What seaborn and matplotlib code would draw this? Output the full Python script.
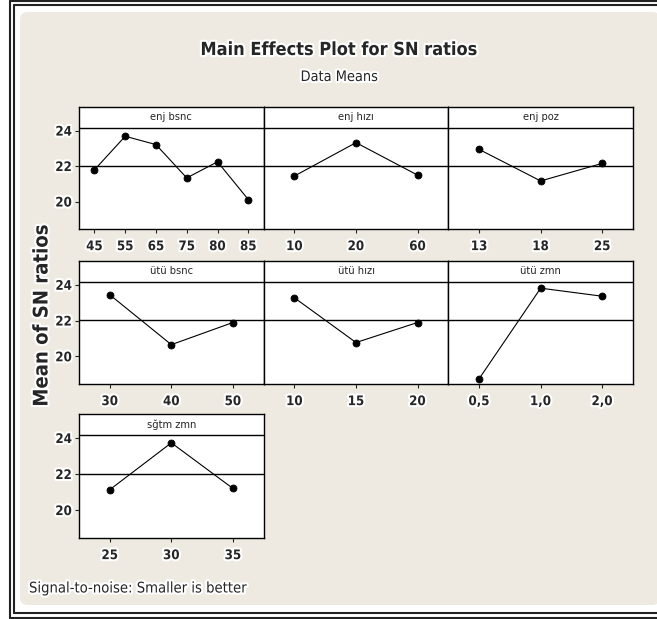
import numpy as np
import pandas as pd
import matplotlib
matplotlib.use("Agg")
import matplotlib.pyplot as plt
import matplotlib.patheffects as pe
from matplotlib import font_manager
from matplotlib.patches import FancyBboxPatch
from matplotlib.lines import Line2D
from matplotlib.transforms import blended_transform_factory
import seaborn as sns

# ---- factor levels and mean SN ratios -------------------------------------
enj_bsnc_levels = ["45", "55", "65", "75", "80", "85"]
enj_bsnc_sn = [21.78, 23.68, 23.21, 21.33, 22.24, 20.11]

enj_hizi_levels = ["10", "20", "60"]
enj_hizi_sn = [21.44, 23.32, 21.49]

enj_poz_levels = ["13", "18", "25"]
enj_poz_sn = [22.94, 21.16, 22.15]

utu_bsnc_levels = ["30", "40", "50"]
utu_bsnc_sn = [23.44, 20.65, 21.89]

utu_hizi_levels = ["10", "15", "20"]
utu_hizi_sn = [23.27, 20.77, 21.89]

utu_zmn_levels = ["0,5", "1,0", "2,0"]
utu_zmn_sn = [18.74, 23.81, 23.36]

sgtm_zmn_levels = ["25", "30", "35"]
sgtm_zmn_sn = [21.13, 23.73, 21.20]

factors = [
    ("enj bsnc", enj_bsnc_levels, enj_bsnc_sn),
    ("enj hızı", enj_hizi_levels, enj_hizi_sn),
    ("enj poz", enj_poz_levels, enj_poz_sn),
    ("ütü bsnc", utu_bsnc_levels, utu_bsnc_sn),
    ("ütü hızı", utu_hizi_levels, utu_hizi_sn),
    ("ütü zmn", utu_zmn_levels, utu_zmn_sn),
    ("sğtm zmn", sgtm_zmn_levels, sgtm_zmn_sn),
]

y_ticks = [20, 22, 24]

# long-format table for seaborn
df = pd.concat(
    [pd.DataFrame({"factor": name, "level": lv, "sn": sn}) for name, lv, sn in factors],
    ignore_index=True,
)
grand_mean = float(np.mean([np.mean(sn) for _, _, sn in factors]))

# ---- fonts: prefer a narrow sans face --------------------------------------
sns.set_style("white")
entries = font_manager.fontManager.ttflist
names = {f.name for f in entries}
narrow_family, narrow_stretch, scale = "Liberation Sans", "normal", 0.92
if "Liberation Sans Narrow" in names:
    narrow_family, scale = "Liberation Sans Narrow", 1.05
elif any(f.name == "DejaVu Sans" and str(f.stretch) not in ("normal", "400", "500")
         for f in entries):
    narrow_family, narrow_stretch, scale = "DejaVu Sans", "condensed", 1.0
elif "Roboto Condensed" in names:
    narrow_family, scale = "Roboto Condensed", 1.05
NARROW = [narrow_family, "DejaVu Sans"]
plt.rcParams["font.family"] = NARROW
plt.rcParams["font.stretch"] = narrow_stretch

W, H = 657, 619
fig = plt.figure(figsize=(W / 100, H / 100), dpi=100, facecolor="white")

def fx(px):
    return px / W

def fy(py):
    return 1 - py / H

glow = [pe.withStroke(linewidth=3, foreground="white")]

# beige panel background
bg = FancyBboxPatch((fx(20), fy(605)), fx(660) - fx(20), fy(12) - fy(605),
                    boxstyle="round,pad=0,rounding_size=0.012",
                    transform=fig.transFigure, facecolor="#EEEAE1",
                    edgecolor="none", zorder=0)
fig.add_artist(bg)

# double frame lines
frame_kw = dict(transform=fig.transFigure, color="#222222", linewidth=1.5, zorder=1)
for x, ytop, ybot in [(10, 1.2, 617.5), (14, 4.5, 612.5)]:
    fig.add_artist(Line2D([fx(x), fx(x)], [fy(ytop), fy(ybot)], **frame_kw))
    fig.add_artist(Line2D([fx(x), fx(W + 5)], [fy(ytop), fy(ytop)], **frame_kw))
    fig.add_artist(Line2D([fx(x), fx(W + 5)], [fy(ybot), fy(ybot)], **frame_kw))

# ---- panels ----------------------------------------------------------------
col_edges = [79, 263.7, 448.3, 633]
row_edges = [(107, 229), (261, 384), (414, 538)]
y_lo, y_hi = 18.45, 25.33
strip_line = 24.16

for i, (name, levels, sn) in enumerate(factors):
    r, c = divmod(i, 3)
    x0, x1 = col_edges[c], col_edges[c + 1]
    y0, y1 = row_edges[r]
    ax = fig.add_axes([fx(x0), fy(y1), fx(x1) - fx(x0), fy(y0) - fy(y1)])
    ax.set_facecolor("white")

    sub = df[df["factor"] == name]
    sns.pointplot(data=sub, x="level", y="sn", order=levels, color="black",
                  markers="o", linestyles="-", errorbar=None,
                  markersize=5, linewidth=0.8, ax=ax, zorder=3)

    ax.axhline(grand_mean, color="black", linewidth=1.0, zorder=2)
    ax.axhline(strip_line, color="black", linewidth=1.0, zorder=2)
    tr = blended_transform_factory(ax.transAxes, ax.transData)
    ax.text(0.5, (strip_line + y_hi) / 2, name, transform=tr, ha="center",
            va="center", fontsize=8 * scale, family=NARROW, fontstretch=narrow_stretch)

    ax.set_xlim(-0.5, len(levels) - 0.5)
    ax.set_ylim(y_lo, y_hi)
    ax.set_xlabel("")
    ax.set_ylabel("")
    for sp in ax.spines.values():
        sp.set_visible(True)
        sp.set_color("black")
        sp.set_linewidth(1.0)

    ax.set_xticks(range(len(levels)))
    ax.set_xticklabels(levels)
    ax.tick_params(axis="x", direction="out", length=3, width=0.8, pad=5,
                   bottom=True, labelsize=9.5 * scale)
    if c == 0:
        ax.set_yticks(y_ticks)
        ax.set_yticklabels([str(t) for t in y_ticks])
        ax.tick_params(axis="y", direction="out", length=3, width=0.8, pad=2,
                       left=True, labelsize=9.5 * scale)
    else:
        ax.set_yticks([])
    for lab in ax.get_xticklabels() + ax.get_yticklabels():
        lab.set_fontweight("bold")
        lab.set_family(NARROW)
        lab.set_fontstretch(narrow_stretch)
        lab.set_path_effects(glow)

# ---- titles and notes --------------------------------------------------------
fig.text(fx(339), fy(50), "Main Effects Plot for SN ratios", ha="center",
         va="center", fontsize=13 * scale, fontweight="bold", family=NARROW,
         fontstretch=narrow_stretch, path_effects=glow)
fig.text(fx(339), fy(77), "Data Means", ha="center", va="center",
         fontsize=10.4 * scale, family=NARROW, fontstretch=narrow_stretch,
         path_effects=glow)
fig.text(fx(42), fy(316), "Mean of SN ratios", ha="center", va="center",
         rotation=90, fontsize=14.5, fontweight="bold", family="DejaVu Sans",
         path_effects=glow)
fig.text(fx(29), fy(588), "Signal-to-noise: Smaller is better", ha="left",
         va="center", fontsize=10.6 * scale, family=NARROW,
         fontstretch=narrow_stretch, path_effects=glow)

fig.savefig("out.png", dpi=100, facecolor="white")
